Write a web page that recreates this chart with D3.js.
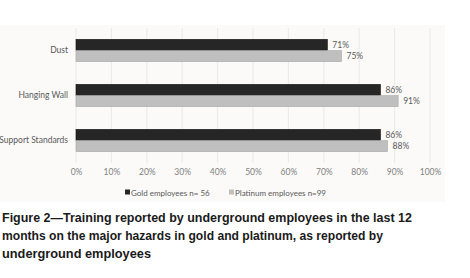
<!DOCTYPE html>
<html lang="en">
<head>
<meta charset="UTF-8">
<title>Figure 2</title>
<script src="https://d3js.org/d3.v7.min.js"></script>
<style>
    body { margin: 0; background: #fff; font-family: Lato, "Open Sans", Arial, sans-serif; }
</style>
</head>
<body>
<div id="chart"></div>
<script>
    // Data
    const hazards = ["Dust", "Hanging Wall", "Support Standards"];
    const goldValues = [71, 86, 86];
    const platinumValues = [75, 91, 88];
    const seriesNames = ["Gold employees n= 56", "Platinum employees n=99"];
    const xTicks = [0, 10, 20, 30, 40, 50, 60, 70, 80, 90, 100];
    const captionLines = [
        "Figure 2\u2014Training reported by underground employees in the last 12",
        "months on the major hazards in gold and platinum, as reported by",
        "underground employees"
    ];

    const W = 470, H = 278;
    const chartFont = "Lato, sans-serif";
    const svg = d3.select("#chart").append("svg")
        .attr("width", W)
        .attr("height", H);

    // chart panel
    svg.append("rect")
        .attr("x", 0).attr("y", 25)
        .attr("width", 445).attr("height", 177)
        .attr("fill", "#fbfaf8");

    const x = d3.scaleLinear().domain([0, 100]).range([76, 430]);
    const y = d3.scaleBand().domain(hazards).range([28, 163]).paddingInner(0.49).paddingOuter(0.245);
    const sub = d3.scaleBand().domain(["gold", "platinum"]).range([0, y.bandwidth()]).padding(0.03);

    // gridlines
    svg.append("g").selectAll("line")
        .data(xTicks)
        .join("line")
        .attr("x1", d => x(d)).attr("x2", d => x(d))
        .attr("y1", 28).attr("y2", 163)
        .attr("stroke", "#e4e4e4")
        .attr("stroke-width", 0.8);

    // x axis labels
    const xAxis = svg.append("g")
        .attr("transform", "translate(0,163)")
        .call(d3.axisBottom(x).tickValues(xTicks).tickFormat(d => d + "%").tickSize(0).tickPadding(6));
    xAxis.select(".domain").remove();
    xAxis.selectAll("text").attr("fill", "#7f7f7f").attr("font-size", 8.5).attr("font-family", chartFont);

    // y axis labels
    const yAxis = svg.append("g")
        .attr("transform", "translate(68,0)")
        .call(d3.axisLeft(y).tickSize(0).tickPadding(0));
    yAxis.select(".domain").remove();
    yAxis.selectAll("text").attr("fill", "#595959").attr("font-size", 8.5).attr("font-family", chartFont);

    const rows = hazards.map((h, i) => ({ h, gold: goldValues[i], platinum: platinumValues[i] }));
    const colors = { gold: "#262626", platinum: "#bfbfbf" };
    const strokes = { gold: "#111", platinum: "#a8a8a8" };

    ["gold", "platinum"].forEach(key => {
        svg.append("g").selectAll("rect")
            .data(rows)
            .join("rect")
            .attr("x", x(0))
            .attr("y", d => y(d.h) + sub(key))
            .attr("width", d => x(d[key]) - x(0))
            .attr("height", sub.bandwidth())
            .attr("fill", colors[key])
            .attr("stroke", strokes[key])
            .attr("stroke-width", 0.6);

        svg.append("g").selectAll("text")
            .data(rows)
            .join("text")
            .attr("x", d => x(d[key]) + 5)
            .attr("y", d => y(d.h) + sub(key) + sub.bandwidth() / 2 + 3)
            .attr("font-size", 8.5)
            .attr("font-family", chartFont)
            .attr("fill", "#595959")
            .text(d => d[key] + "%");
    });

    // legend
    const legend = svg.append("g").attr("transform", "translate(0,193)");
    const legendX = [125, 229];
    ["gold", "platinum"].forEach((key, i) => {
        legend.append("rect")
            .attr("x", legendX[i]).attr("y", -3.5)
            .attr("width", 5).attr("height", 5)
            .attr("fill", colors[key]);
        legend.append("text")
            .attr("x", legendX[i] + 6).attr("y", 2.5)
            .attr("font-size", 8)
            .attr("font-family", chartFont)
            .attr("fill", "#595959")
            .text(seriesNames[i]);
    });

    // caption
    const capWidths = [410, 381, 149];
    const capY = [222, 240, 258];
    svg.append("g").selectAll("text")
        .data(captionLines)
        .join("text")
        .attr("x", 2)
        .attr("y", (d, i) => capY[i])
        .attr("font-family", "Liberation Sans, Arial, sans-serif")
        .attr("font-weight", "bold")
        .attr("font-size", 13)
        .attr("fill", "#1a1a1a")
        .attr("textLength", (d, i) => capWidths[i])
        .attr("lengthAdjust", "spacingAndGlyphs")
        .text(d => d);
</script>
</body>
</html>
